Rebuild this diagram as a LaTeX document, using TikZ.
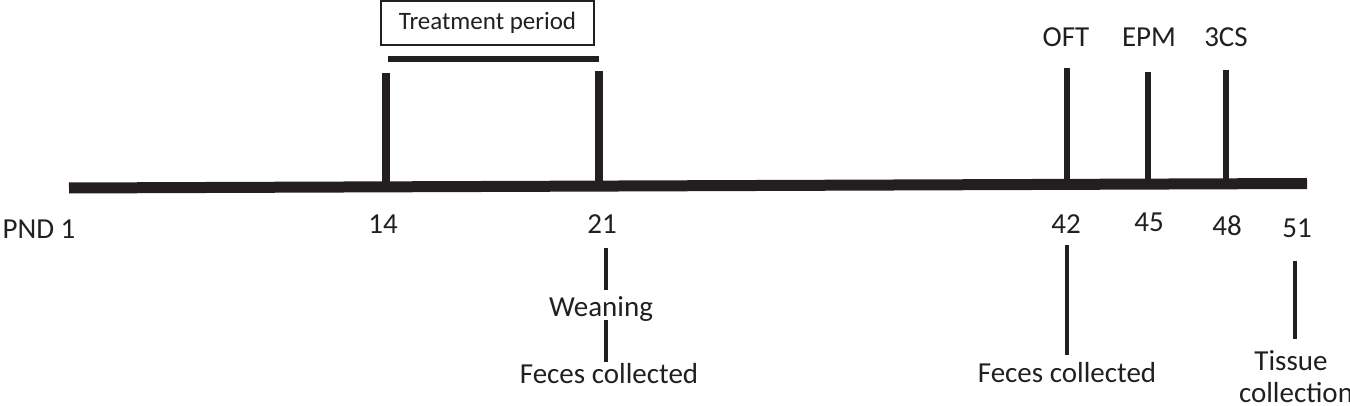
\documentclass[tikz,border=0pt]{standalone}
\usepackage{fontspec}
\setmainfont{Carlito}
\definecolor{ink}{HTML}{231F20}
\begin{document}
\begin{tikzpicture}[x=0.5pt,y=-0.5pt,
  lbl/.style={inner sep=0pt, anchor=base, text=ink, font=\fontsize{14.5}{17}\selectfont},
  axis/.style={line width=5.5pt, draw=ink},
  bigtick/.style={line width=4pt, draw=ink},
  tick/.style={line width=2.7pt, draw=ink},
  lowtick/.style={line width=2.4pt, draw=ink},
  brace/.style={line width=3pt, draw=ink}]
\useasboundingbox (0,0) rectangle (1350,406);
% main axis
\coordinate (axL) at (69,188);
\coordinate (axR) at (1307,183.5);
\draw[axis] (axL) -- (axR);
% treatment box and bar
\node[draw=ink, line width=0.8pt, minimum width=106.5pt, minimum height=22pt, inner sep=0pt,
      text=ink, font=\fontsize{12.5}{15}\selectfont] (box) at (487.5,23) {Treatment period};
\coordinate (brL) at (388,59);
\coordinate (brR) at (599,59);
\draw[brace] (brL) -- (brR);
% upper ticks
\coordinate (t14a) at (386,73); \coordinate (t14b) at (386,186);
\coordinate (t21a) at (599,71); \coordinate (t21b) at (599,185);
\coordinate (t42a) at (1067,68); \coordinate (t42b) at (1067,183);
\coordinate (t45a) at (1148,72); \coordinate (t45b) at (1148,183);
\coordinate (t48a) at (1226,70); \coordinate (t48b) at (1226,183);
\draw[bigtick] (t14a) -- (t14b);
\draw[bigtick] (t21a) -- (t21b);
\draw[tick] (t42a) -- (t42b);
\draw[tick] (t45a) -- (t45b);
\draw[tick] (t48a) -- (t48b);
% upper labels
\node[lbl] (oft) at (1066,47) {OFT};
\node[lbl] (epm) at (1149,47) {EPM};
\node[lbl] (ccs) at (1226,47) {3CS};
% day labels
\node[lbl] (pnd) at (39,239) {PND 1};
\node[lbl] (d14) at (383,234) {14};
\node[lbl] (d21) at (602,234) {21};
\node[lbl] (d42) at (1066,234) {42};
\node[lbl] (d45) at (1149,232) {45};
\node[lbl] (d48) at (1227,236) {48};
\node[lbl] (d51) at (1297,238) {51};
% lower annotations
\node[lbl] (wean) at (601,317) {Weaning};
\node[lbl] (fec1) at (609,384) {Feces collected};
\node[lbl] (fec2) at (1067,382) {Feces collected};
\node[lbl] (tis1) at (1291,371) {Tissue};
\node[lbl] (tis2) at (1296,402) {collection};
\coordinate (l21a) at (606,248); \coordinate (l21b) at (606,290);
\coordinate (l21c) at (606,320); \coordinate (l21d) at (606,362);
\coordinate (l42a) at (1067,245); \coordinate (l42b) at (1067,355);
\coordinate (l51a) at (1295,261); \coordinate (l51b) at (1295,339);
\draw[lowtick] (l21a) -- (l21b);
\draw[lowtick] (l21c) -- (l21d);
\draw[lowtick] (l42a) -- (l42b);
\draw[lowtick] (l51a) -- (l51b);
\end{tikzpicture}
\end{document}
